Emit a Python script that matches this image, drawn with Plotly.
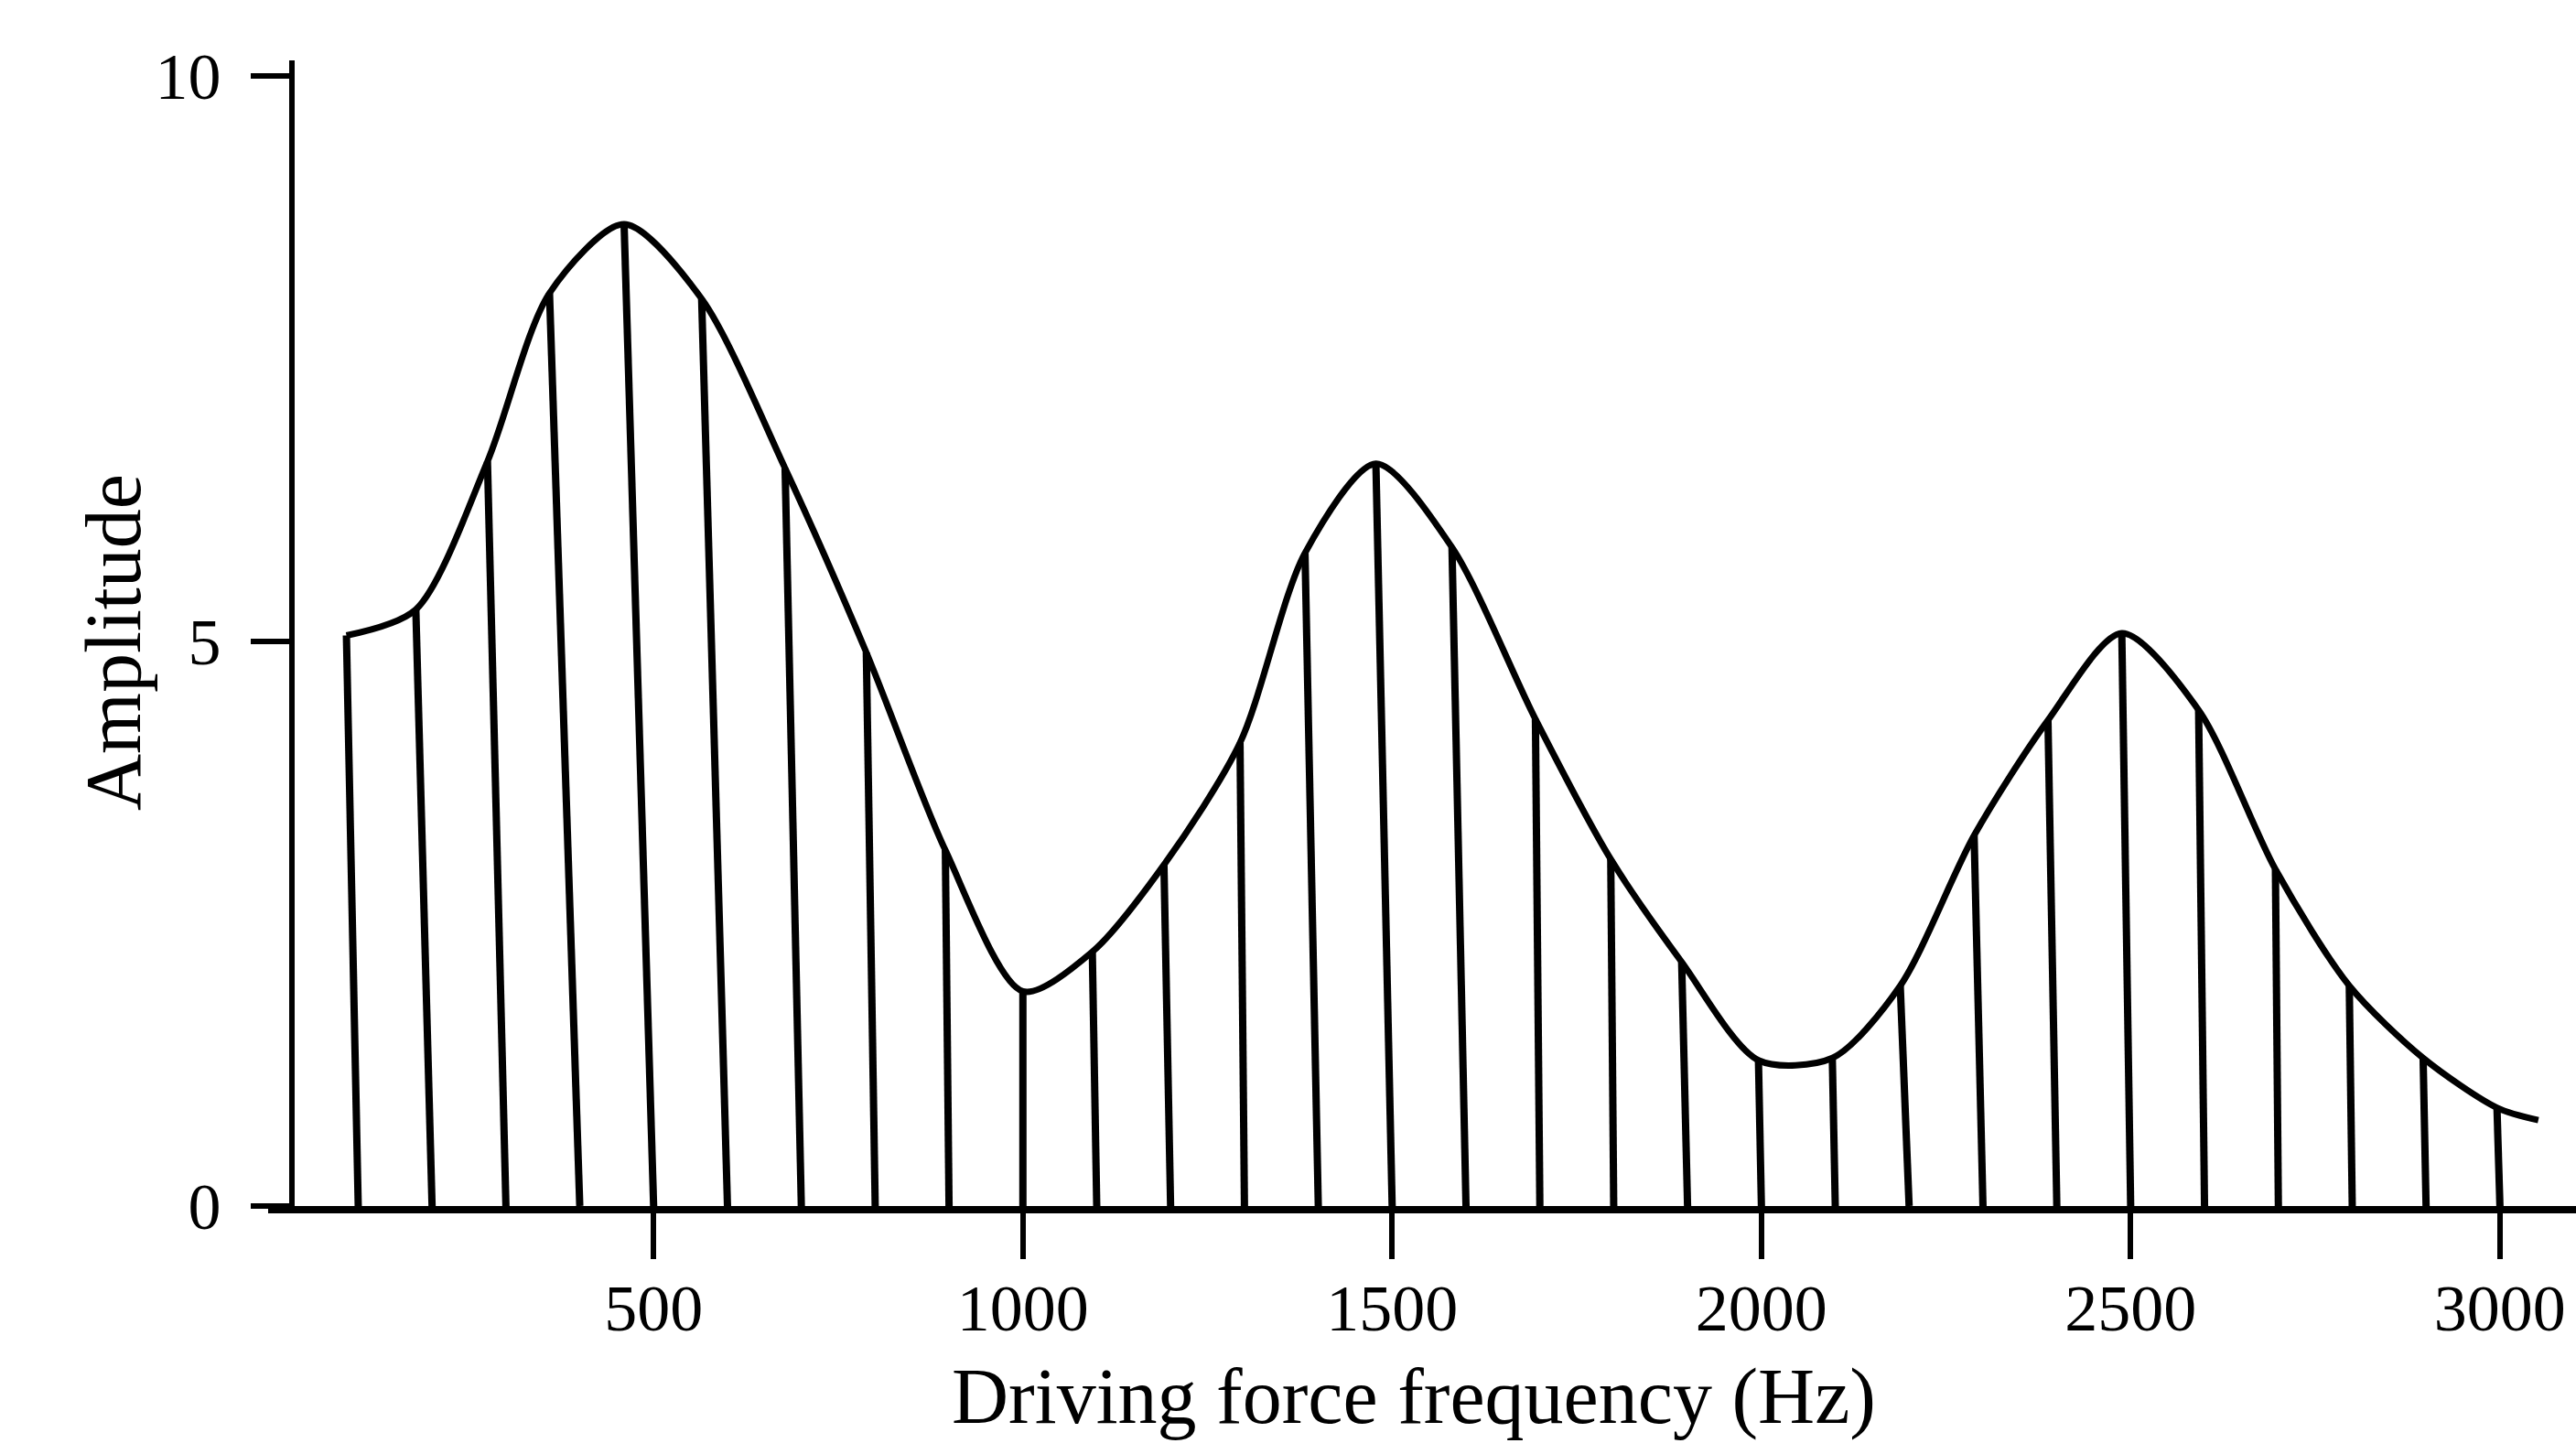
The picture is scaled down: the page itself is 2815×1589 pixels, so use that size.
import plotly.graph_objects as go

# ---- data ----
stem_freq_hz = [100, 200, 300, 400, 500, 600, 700, 800, 900, 1000,
                1100, 1200, 1300, 1400, 1500, 1600, 1700, 1800, 1900, 2000,
                2100, 2200, 2300, 2400, 2500, 2600, 2700, 2800, 2900, 3000]
stem_amplitude = [5.05, 5.28, 6.59, 8.08, 8.69, 8.03, 6.53, 4.90, 3.15, 1.90,
                  2.25, 3.02, 4.10, 5.78, 6.57, 5.83, 4.31, 3.07, 2.16, 1.29,
                  1.31, 1.95, 3.28, 4.30, 5.07, 4.39, 2.98, 1.95, 1.31, 0.87]
# hand-drawn stems lean slightly: horizontal offset of each stem's top (Hz)
stem_top_lean_hz = [-16, -22, -25, -41, -40, -35, -22, -12, -5, 0,
                    -6, -9, -6, -18, -22, -19, -6, -4, -8, -4,
                    -4, -12, -12, -12, -12, -8, -4, -4, -4, -4]
curve_tail_freq_hz = [3052]
curve_tail_amplitude = [0.76]

x_ticks = [500, 1000, 1500, 2000, 2500, 3000]
y_ticks = [0, 5, 10]
x_title = "Driving force frequency (Hz)"
y_title = "Amplitude"

FONT = "Liberation Serif"

top_freq = [f + d for f, d in zip(stem_freq_hz, stem_top_lean_hz)]

stem_x, stem_y = [], []
for f, ft, a in zip(stem_freq_hz, top_freq, stem_amplitude):
    stem_x += [f, ft, None]
    stem_y += [0, a, None]

fig = go.Figure()
fig.add_trace(go.Scatter(x=stem_x, y=stem_y, mode="lines",
                         line=dict(color="black", width=8),
                         hoverinfo="skip", showlegend=False))
fig.add_trace(go.Scatter(x=top_freq + curve_tail_freq_hz,
                         y=stem_amplitude + curve_tail_amplitude,
                         mode="lines",
                         line=dict(color="black", width=7, shape="spline", smoothing=0.8),
                         showlegend=False))

W, H = 2815, 1589
ml, mr, mt, mb = 293, 0, 66, 271
xr = [-22, 3103]
yr = [0, 10.14]

fig.update_layout(
    width=W, height=H,
    margin=dict(l=ml, r=mr, t=mt, b=mb),
    paper_bgcolor="white", plot_bgcolor="white",
    font=dict(family=FONT, color="black"),
    xaxis=dict(range=xr, tickvals=x_ticks, ticks="outside", ticklen=50,
               tickwidth=6, tickcolor="black", showline=True, linewidth=8,
               linecolor="black", showgrid=False, zeroline=False,
               tickfont=dict(family=FONT, size=72, color="black"),
               ticklabelstandoff=-8),
    yaxis=dict(range=yr, tickvals=y_ticks, ticks="outside", ticklen=42,
               tickwidth=6, tickcolor="black", showline=True, linewidth=6,
               linecolor="black", showgrid=False, zeroline=False,
               anchor="free", position=(10 - xr[0]) / (xr[1] - xr[0]),
               tickfont=dict(family=FONT, size=72, color="black"),
               ticklabelstandoff=18),
    annotations=[
        dict(text=x_title, xref="paper", yref="paper",
             x=(1545 - ml) / (W - ml - mr), y=(1318 - 1526) / (1318 - mt),
             xanchor="center", yanchor="middle", showarrow=False,
             font=dict(family=FONT, size=86, color="black")),
        dict(text=y_title, xref="paper", yref="paper", textangle=-90,
             x=(124 - ml) / (W - ml - mr), y=(1318 - 702) / (1318 - mt),
             xanchor="center", yanchor="middle", showarrow=False,
             font=dict(family=FONT, size=86, color="black")),
    ],
)

fig.write_html("out.html")
